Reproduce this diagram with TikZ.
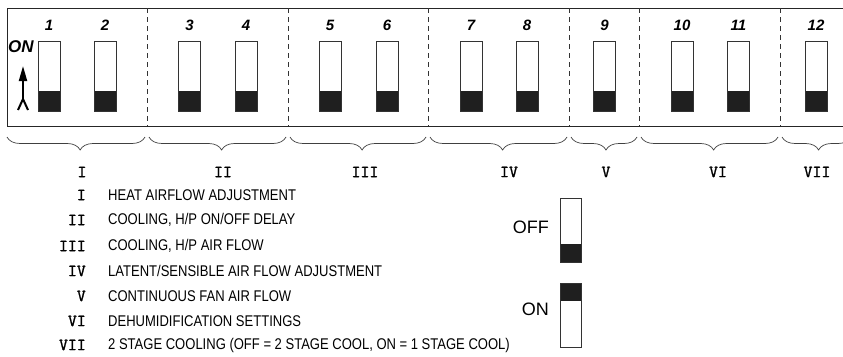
\documentclass[tikz,border=0pt]{standalone}
\usepackage{fontspec}
\setmainfont{Liberation Sans}
\newfontfamily\legendfont[FakeStretch=0.84]{Liberation Sans}
\newfontfamily\romanfont[FakeBold=1]{lmmono10-regular.otf}
\usetikzlibrary{arrows.meta,decorations.pathreplacing}

\tikzset{
  frame/.style={draw=black!85, line width=0.9pt},
  divider/.style={draw=black!80, line width=0.7pt, dash pattern=on 5pt off 4pt},
  dipsw/.style={draw=black!80, line width=0.8pt, fill=white, inner sep=0pt,
    minimum width=22pt, minimum height=70pt},
  lever/.style={fill=black!88},
  leverdown/.style={path picture={\fill[lever] (path picture bounding box.south west)
    rectangle ([yshift=#1]path picture bounding box.south east);}},
  leverup/.style={path picture={\fill[lever] (path picture bounding box.north west)
    rectangle ([yshift=-#1]path picture bounding box.north east);}},
  swnum/.style={font=\fontsize{15}{17}\selectfont\bfseries\itshape, inner sep=0pt},
  onarrow/.style={line width=2pt,
    {Straight Barb[reversed,length=11pt,width=10pt,line width=2pt]}-{Triangle[length=15pt,width=8pt]}},
  grpbrace/.style={draw=black!75, line width=0.7pt, decorate,
    decoration={brace, amplitude=13pt, mirror, aspect=0.53}},
  roman/.style={font=\fontsize{17}{18}\selectfont\romanfont, inner sep=0pt},
  legtext/.style={font=\fontsize{15.5}{17}\selectfont\legendfont, anchor=west, inner sep=0pt},
  stlabel/.style={font=\fontsize{18}{20}\selectfont, anchor=east, inner sep=0pt},
}

\begin{document}
\begin{tikzpicture}[x=1pt,y=-1pt]
  \useasboundingbox (0,0) rectangle (843,356);
  \clip (0,0) rectangle (843,356);

  % switch block
  \draw[frame] (850,8) -- (7,8) -- (7,126) -- (850,126);
  \foreach \x in {147,288,428,569,639,780}
    \draw[divider] (\x,8) -- (\x,126);

  \foreach \n/\x in {1/49,2/105,3/189.5,4/246,5/330,6/387,7/471,8/527,9/604.5,10/682,11/738.5,12/816}{
    \node[dipsw, leverdown=20pt] (sw\n) at (\x,76) {};
    \node[swnum] (num\n) at (\x,25) {\n};
  }

  % ON marker
  \node[swnum, font=\fontsize{17}{19}\selectfont\bfseries\itshape] (onmark) at (21,47) {ON};
  \coordinate (ontail) at (23,111);
  \coordinate (onhead) at (23,66);
  \draw[onarrow] (ontail) -- (onhead);

  % groups
  \draw[grpbrace] (7,137) -- (145,137);
  \draw[grpbrace] (149,137) -- (286,137);
  \draw[grpbrace] (290,137) -- (426,137);
  \draw[grpbrace] (430,137) -- (567,137);
  \draw[grpbrace] (571,137) -- (637,137);
  \draw[grpbrace] (641,137) -- (778,137);
  \draw[grpbrace] (782,137) -- (851,137);

  \node[roman] (g1) at (82,172) {I};
  \node[roman] (g2) at (223,172) {II};
  \node[roman] (g3) at (365,172) {III};
  \node[roman] (g4) at (509,172) {IV};
  \node[roman] (g5) at (606,172) {V};
  \node[roman] (g6) at (718,172) {VI};
  \node[roman] (g7) at (817,172) {VII};

  % legend
  \node[roman, anchor=east] (k1) at (86,195) {I};
  \node[roman, anchor=east] (k2) at (86,220) {II};
  \node[roman, anchor=east] (k3) at (86,246) {III};
  \node[roman, anchor=east] (k4) at (86,271) {IV};
  \node[roman, anchor=east] (k5) at (86,296) {V};
  \node[roman, anchor=east] (k6) at (86,321) {VI};
  \node[roman, anchor=east] (k7) at (86,345) {VII};

  \node[legtext] (t1) at (108,195) {HEAT AIRFLOW ADJUSTMENT};
  \node[legtext] (t2) at (108,220) {COOLING, H/P ON/OFF DELAY};
  \node[legtext] (t3) at (108,246) {COOLING, H/P AIR FLOW};
  \node[legtext] (t4) at (108,271) {LATENT/SENSIBLE AIR FLOW ADJUSTMENT};
  \node[legtext] (t5) at (108,296) {CONTINUOUS FAN AIR FLOW};
  \node[legtext] (t6) at (108,321) {DEHUMIDIFICATION SETTINGS};
  \node[legtext] (t7) at (108,345) {2 STAGE COOLING (OFF = 2 STAGE COOL, ON = 1 STAGE COOL)};

  % off / on key
  \node[dipsw, minimum width=21pt, minimum height=64pt, leverdown=18pt] (offsw) at (571,230) {};
  \node[dipsw, minimum width=21pt, minimum height=64pt, leverup=18pt] (onsw) at (570.5,315) {};
  \node[stlabel] (offlbl) at (549,227) {OFF};
  \node[stlabel] (onlbl) at (549,309) {ON};
\end{tikzpicture}
\end{document}
